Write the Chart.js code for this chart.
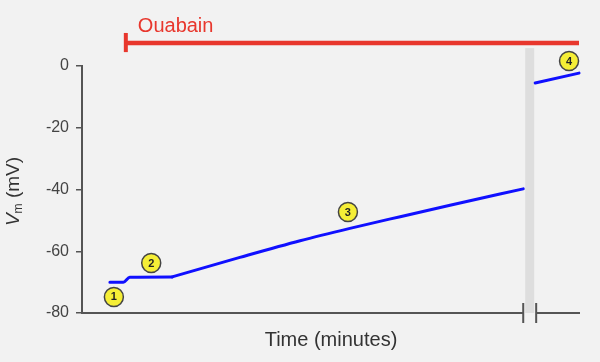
<!DOCTYPE html>
<html>
<head>
<meta charset="utf-8">
<script src="https://cdn.jsdelivr.net/npm/chart.js@4/dist/chart.umd.min.js"></script>
<style>
  html, body { margin: 0; padding: 0; background: #f2f2f2; }
  canvas { display: block; }
</style>
</head>
<body>
<canvas id="c" width="600" height="362"></canvas>
<script>
// ---- data (time in arbitrary minutes, Vm in mV) ----
const timeBaseline = [5.6, 8.3, 9.6, 18.1];
const vmBaseline   = [-70, -70, -68.4, -68.3];
const timeRise = [18.1, 31.7, 43.8, 53.8, 63.9, 73.9, 88.6];
const vmRise   = [-68.3, -62.0, -56.6, -52.6, -48.8, -45.1, -39.8];
const timeAfter  = [91.0, 99.8];
const vmAfter    = [-5.5, -2.3];
const markerTime   = [6.4, 13.9, 53.4, 97.8];
const markerVm     = [-74.8, -63.8, -47.3, 1.6];
const markerLabels = ['1', '2', '3', '4'];
const ouabainTime = [8.8, 99.8];
const ouabainLevel = 7.45;
const ouabainCap = [4.5, 10.7];
const breakTime = [88.6, 91.2];
const yTicks = [0, -20, -40, -60, -80];

const pts = (xs, ys) => xs.map((x, i) => ({ x: x, y: ys[i] }));

const decor = {
  id: 'decor',
  beforeDraw(chart) {
    const ctx = chart.ctx;
    ctx.save();
    ctx.fillStyle = '#f2f2f2';
    ctx.fillRect(0, 0, chart.width, chart.height);
    // grey break band
    const xs = chart.scales.x, ys = chart.scales.y;
    const b0 = xs.getPixelForValue(breakTime[0]) + 2;
    const b1 = xs.getPixelForValue(breakTime[1]) - 2;
    ctx.fillStyle = '#dedede';
    ctx.fillRect(b0, ys.getPixelForValue(5.8), b1 - b0, ys.getPixelForValue(-80) - ys.getPixelForValue(5.8));
    ctx.restore();
  },
  afterDraw(chart) {
    const ctx = chart.ctx;
    const xs = chart.scales.x, ys = chart.scales.y;
    ctx.save();
    // x axis with break
    const yb = ys.getPixelForValue(-80);
    const x0 = xs.getPixelForValue(0), xb0 = xs.getPixelForValue(breakTime[0]);
    const xb1 = xs.getPixelForValue(breakTime[1]), xe = xs.getPixelForValue(100);
    ctx.strokeStyle = '#555';
    ctx.lineWidth = 2;
    ctx.beginPath();
    ctx.moveTo(x0 - 1, yb); ctx.lineTo(xb0, yb);
    ctx.moveTo(xb1, yb); ctx.lineTo(xe, yb);
    ctx.moveTo(xb0, yb - 10); ctx.lineTo(xb0, yb + 10);
    ctx.moveTo(xb1, yb - 10); ctx.lineTo(xb1, yb + 10);
    ctx.stroke();
    // marker numbers
    ctx.fillStyle = '#222';
    ctx.font = 'bold 11px "Liberation Sans", Arial, sans-serif';
    ctx.textAlign = 'center';
    ctx.textBaseline = 'middle';
    markerLabels.forEach((t, i) => {
      ctx.fillText(t, xs.getPixelForValue(markerTime[i]), ys.getPixelForValue(markerVm[i]) + 0.5);
    });
    // Ouabain label
    ctx.fillStyle = '#e8372d';
    ctx.font = '20px "Liberation Sans", Arial, sans-serif';
    ctx.textAlign = 'left';
    ctx.textBaseline = 'alphabetic';
    ctx.fillText('Ouabain', xs.getPixelForValue(ouabainTime[0]) + 12, ys.getPixelForValue(ouabainCap[1]) - 0.5);
    // y title V_m (mV)
    ctx.translate(14, (ys.top + ys.bottom) / 2 + 2);
    ctx.rotate(-Math.PI / 2);
    const fMain = '19px "Liberation Sans", Arial, sans-serif';
    const fIt = 'italic 19px "Liberation Sans", Arial, sans-serif';
    const fSub = '12px "Liberation Sans", Arial, sans-serif';
    ctx.font = fIt; const wV = ctx.measureText('V').width;
    ctx.font = fSub; const wm = ctx.measureText('m').width;
    ctx.font = fMain; const wr = ctx.measureText(' (mV)').width;
    let x = -(wV + wm + wr) / 2;
    ctx.fillStyle = '#333';
    ctx.textBaseline = 'middle';
    ctx.font = fIt; ctx.fillText('V', x, 0); x += wV;
    ctx.font = fSub; ctx.fillText('m', x, 5); x += wm;
    ctx.font = fMain; ctx.fillText(' (mV)', x, 0);
    ctx.restore();
  }
};

const blueLine = (d, extra) => Object.assign({
  data: d,
  borderColor: '#1010ff',
  borderWidth: 3,
  pointRadius: 0,
  borderJoinStyle: 'round',
  borderCapStyle: 'round',
  clip: false,
  order: 1
}, extra || {});

new Chart(document.getElementById('c'), {
  type: 'line',
  data: {
    datasets: [
      {
        data: pts(markerTime, markerVm),
        showLine: false,
        pointRadius: 9.5,
        pointBackgroundColor: '#f5ee36',
        pointBorderColor: '#444',
        pointBorderWidth: 1.5,
        clip: false,
        order: 0
      },
      blueLine(pts(timeBaseline, vmBaseline), { cubicInterpolationMode: 'monotone' }),
      blueLine(pts(timeRise, vmRise), { cubicInterpolationMode: 'monotone' }),
      blueLine(pts(timeAfter, vmAfter)),
      {
        data: pts(ouabainTime, [ouabainLevel, ouabainLevel]),
        borderColor: '#e8372d',
        borderWidth: 4.5,
        pointRadius: 0,
        clip: false,
        order: 2
      },
      {
        data: pts([ouabainTime[0], ouabainTime[0]], ouabainCap),
        borderColor: '#e8372d',
        borderWidth: 4,
        pointRadius: 0,
        clip: false,
        order: 2
      }
    ]
  },
  options: {
    responsive: false,
    animation: false,
    layout: { padding: { top: 66, right: 20, left: 0, bottom: 0 } },
    plugins: { legend: { display: false }, tooltip: { enabled: false } },
    scales: {
      x: {
        type: 'linear',
        min: 0,
        max: 100,
        grid: { display: false },
        border: { display: false },
        ticks: { display: false },
        title: {
          display: true,
          text: 'Time (minutes)',
          color: '#333',
          font: { family: '"Liberation Sans", Arial, sans-serif', size: 20 },
          padding: { top: 0, bottom: 10 }
        },
        afterFit(s) { s.height = 49; }
      },
      y: {
        type: 'linear',
        min: -80,
        max: 0,
        afterBuildTicks(s) { s.ticks = yTicks.map(v => ({ value: v })); },
        grid: { display: true, drawOnChartArea: false, drawTicks: true, tickLength: 6, color: '#555', lineWidth: 1.5 },
        border: { display: true, color: '#555', width: 2 },
        ticks: {
          color: '#444',
          padding: 7,
          font: { family: '"Liberation Sans", Arial, sans-serif', size: 16 }
        },
        title: { display: false },
        afterFit(s) { s.width = 82; }
      }
    }
  },
  plugins: [decor]
});
</script>
</body>
</html>
